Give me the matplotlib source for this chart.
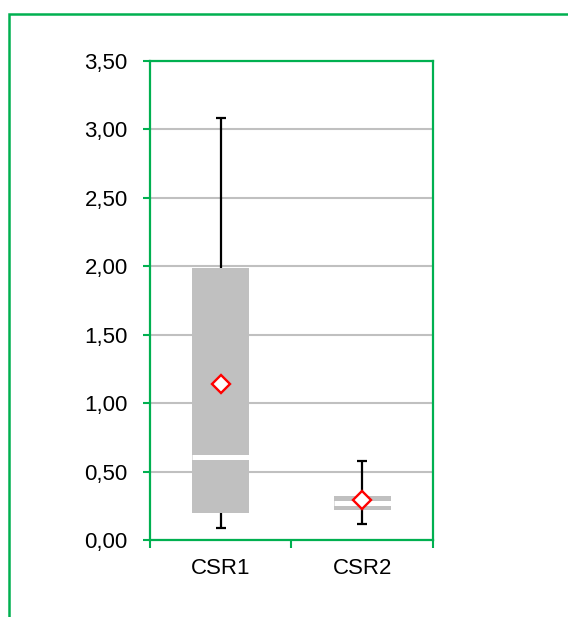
import matplotlib.pyplot as plt
from matplotlib.patches import Rectangle
from matplotlib.ticker import FuncFormatter, MultipleLocator

GREEN = "#00b050"
BOXGREY = "#c0c0c0"

categories = ["CSR1", "CSR2"]
whisker_low = [0.09, 0.12]
q1 = [0.20, 0.22]
median = [0.61, 0.27]
q3 = [1.99, 0.32]
whisker_high = [3.08, 0.58]
mean = [1.14, 0.29]

plt.rcParams["font.family"] = ["Liberation Sans", "DejaVu Sans"]


def comma_fmt(v, pos):
    return f"{v:.2f}".replace(".", ",")


def main():
    fig = plt.figure(figsize=(5.68, 6.17), dpi=100)

    # outer green frame, runs off the right and bottom edges
    fig.patches.append(Rectangle((9 / 568, -0.05), 1.2, 1 - 14 / 617 + 0.05,
                                 transform=fig.transFigure, fill=False,
                                 edgecolor=GREEN, linewidth=1.8, zorder=0))

    ax = fig.add_axes([150 / 568, 77 / 617, 283 / 568, 479 / 617])
    x = [1, 2]
    width = 0.4

    # boxes
    ax.bar(x, [h - l for h, l in zip(q3, q1)], bottom=q1, width=width,
           color=BOXGREY, edgecolor="none", zorder=2)
    # medians as white lines through the box
    for xi, m in zip(x, median):
        ax.hlines(m, xi - width / 2, xi + width / 2, color="white",
                  linewidth=3.6, zorder=3)
    # whiskers; the second box is thin enough that its whisker runs through it
    for i, (xi, lo, hi) in enumerate(zip(x, whisker_low, whisker_high)):
        if i == 1:
            ax.vlines(xi, lo, hi, color="black", linewidth=1.6, zorder=4)
        else:
            ax.vlines(xi, q3[i], hi, color="black", linewidth=1.6, zorder=4)
            ax.vlines(xi, lo, q1[i], color="black", linewidth=1.6, zorder=4)
        ax.hlines([lo, hi], xi - 0.035, xi + 0.035, color="black",
                  linewidth=1.6, zorder=4)
    # means
    ax.plot(x, mean, linestyle="none", marker="D", markersize=9.5,
            markerfacecolor="white", markeredgecolor="red",
            markeredgewidth=1.7, zorder=5)

    ax.set_xlim(0.5, 2.5)
    ax.set_ylim(0, 3.5)
    ax.yaxis.set_major_locator(MultipleLocator(0.5))
    ax.yaxis.set_major_formatter(FuncFormatter(comma_fmt))
    ax.grid(axis="y", color=BOXGREY, linewidth=1.5, zorder=0)
    ax.set_axisbelow(True)

    ax.set_xticks(x)
    ax.set_xticklabels(categories)
    ax.set_xticks([0.5, 1.5, 2.5], minor=True)
    ax.tick_params(axis="x", which="major", length=0, pad=13, labelsize=16)
    ax.tick_params(axis="x", which="minor", length=6, width=1.5,
                   color=GREEN, direction="out")
    ax.tick_params(axis="y", length=5, width=1.5, color=GREEN,
                   direction="out", pad=11, labelsize=16)

    for s in ax.spines.values():
        s.set_color(GREEN)
        s.set_linewidth(1.6)

    fig.savefig("out.png", dpi=100)


if __name__ == "__main__":
    main()
